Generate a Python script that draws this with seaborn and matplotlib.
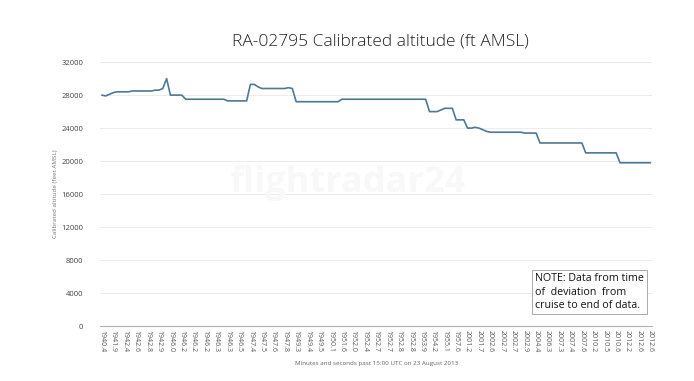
import matplotlib
matplotlib.use("Agg")
import matplotlib.pyplot as plt
import seaborn as sns
import pandas as pd

# tick labels (minutes and seconds past 15:00 UTC), one every third sample
time_labels = ['1940.4', '1941.9', '1942.4', '1942.6', '1942.8', '1942.9', '1946.0',
               '1946.2', '1946.2', '1946.2', '1946.3', '1946.3', '1946.5', '1947.4',
               '1947.5', '1947.6', '1947.8', '1949.3', '1949.4', '1949.5', '1950.1',
               '1951.6', '1952.0', '1952.4', '1952.7', '1952.7', '1952.8', '1952.8',
               '1953.9', '1954.2', '1955.1', '1957.6', '2001.2', '2001.7', '2002.6',
               '2002.7', '2002.7', '2002.9', '2004.4', '2006.3', '2007.3', '2007.4',
               '2007.6', '2010.2', '2010.5', '2010.6', '2012.2', '2012.6', '2012.6']

# calibrated altitude, ft AMSL
altitude = [28000, 27900, 28100, 28300, 28400, 28400, 28400, 28400, 28500, 28500,
            28500, 28500, 28500, 28500, 28600, 28600, 28800, 30000, 28000, 28000,
            28000, 28000, 27500, 27500, 27500, 27500, 27500, 27500, 27500, 27500,
            27500, 27500, 27500, 27300, 27300, 27300, 27300, 27300, 27300, 29300,
            29300, 29000, 28800, 28800, 28800, 28800, 28800, 28800, 28800, 28900,
            28800, 27200, 27200, 27200, 27200, 27200, 27200, 27200, 27200, 27200,
            27200, 27200, 27200, 27500, 27500, 27500, 27500, 27500, 27500, 27500,
            27500, 27500, 27500, 27500, 27500, 27500, 27500, 27500, 27500, 27500,
            27500, 27500, 27500, 27500, 27500, 27500, 26000, 26000, 26000, 26200,
            26400, 26400, 26400, 25000, 25000, 25000, 24000, 24000, 24100, 24000,
            23800, 23600, 23500, 23500, 23500, 23500, 23500, 23500, 23500, 23500,
            23500, 23400, 23400, 23400, 23400, 22200, 22200, 22200, 22200, 22200,
            22200, 22200, 22200, 22200, 22200, 22200, 22200, 21000, 21000, 21000,
            21000, 21000, 21000, 21000, 21000, 21000, 19800, 19800, 19800, 19800,
            19800, 19800, 19800, 19800, 19800]

df = pd.DataFrame({'sample': range(len(altitude)), 'altitude': altitude})

sns.set_style('white')
plt.rcParams['font.family'] = ['Open Sans', 'DejaVu Sans']

fig = plt.figure(figsize=(6.94, 3.81), dpi=100)
ax = fig.add_axes([0.144, 0.144, 0.796, 0.693])

sns.lineplot(data=df, x='sample', y='altitude', color='#4d7896', linewidth=1.2, ax=ax)

ax.set_ylim(0, 32000)
ax.set_yticks(range(0, 32001, 4000))
ax.set_xlim(-0.5, len(altitude) - 0.5)
ax.set_xticks(range(0, len(altitude), 3))
ax.set_xticklabels(time_labels, rotation=270, fontsize=5, color='#555555')
ax.tick_params(axis='y', labelsize=5.5, colors='#444444', length=0, pad=12)
ax.tick_params(axis='x', length=0, pad=3)
ax.grid(axis='y', color='#ececec', linewidth=0.7)

for s in ['top', 'right', 'left']:
    ax.spines[s].set_visible(False)
ax.spines['bottom'].set_color('#b0b0b0')
ax.spines['bottom'].set_linewidth(0.8)

ax.set_ylabel('Calibrated altitude (feet AMSL)', fontsize=4.5, color='#777777', labelpad=2)
ax.set_xlabel('Minutes and seconds past 15:00 UTC on 23 August 2013', fontsize=4.5,
              color='#666666', labelpad=6)

fig.text(0.548, 0.89, 'RA-02795 Calibrated altitude (ft AMSL)', ha='center',
         va='center', fontsize=12.5, color='#222222', fontweight='light')

# faint watermark
fig.text(0.5, 0.52, 'flightradar24', ha='center', va='center', fontsize=26,
         color='#f8f8f8', fontweight='bold', zorder=0)

ax.text(0.788, 0.129, 'NOTE: Data from time\nof  deviation  from\ncruise to end of data.',
        transform=ax.transAxes, fontsize=7.7, color='#111111', va='center', ha='left',
        linespacing=1.3,
        bbox=dict(boxstyle='square,pad=0.3', facecolor='white', edgecolor='#aaaaaa',
                  linewidth=0.7))

fig.savefig('out.png', dpi=100)
